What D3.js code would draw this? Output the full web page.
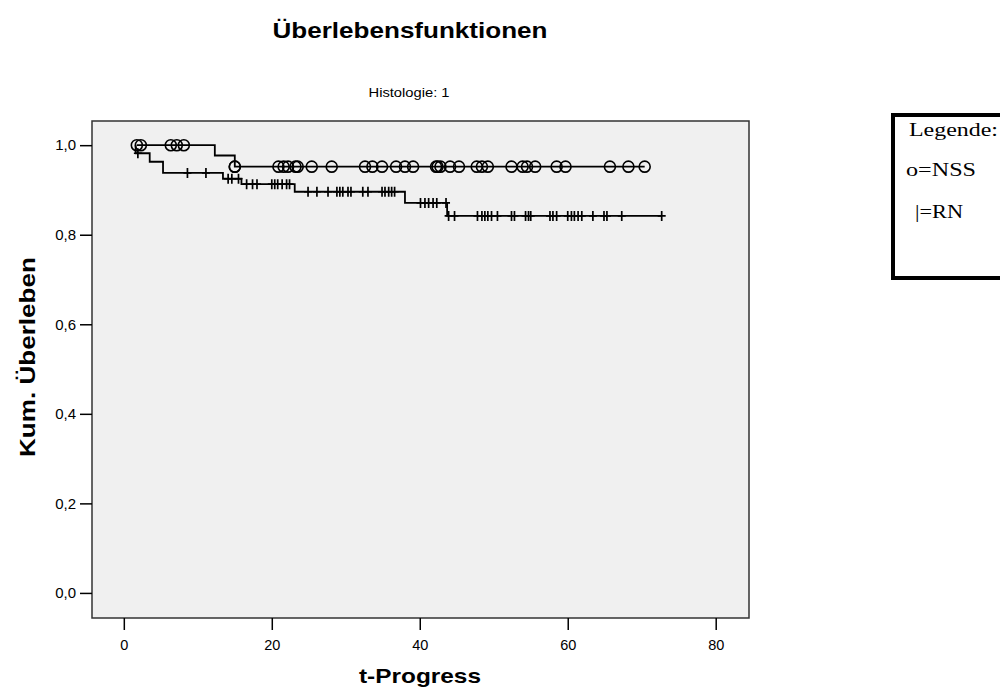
<!DOCTYPE html>
<html>
<head>
<meta charset="utf-8">
<script src="https://cdn.jsdelivr.net/npm/d3@7"></script>
<style>
  html, body { margin: 0; padding: 0; background: #fff; }
  svg { display: block; }
</style>
</head>
<body>
<svg id="chart" width="1000" height="691"></svg>
<script>
// Kaplan-Meier survival curves, group NSS (circles) and group RN (crosses)
const xTicks = [0, 20, 40, 60, 80];
const yTicks = [0, 0.2, 0.4, 0.6, 0.8, 1.0];

// NSS: start/end of follow-up, event times with survival after each event, censored times
const nssRange = [1.76, 70.4];
const nssEventTimes = [12.3, 15.0];
const nssEventSurv = [0.977, 0.952];
const nssCensored = [1.76, 2.3, 6.35, 7.16, 8.11, 15.0, 15.0, 20.9, 21.6, 22.2, 23.2, 23.5,
  25.4, 28.1, 32.6, 33.6, 34.9, 36.8, 38.0, 39.1, 42.2, 42.4, 42.8, 44.1, 45.3, 47.7,
  48.4, 49.2, 52.4, 53.9, 54.5, 55.6, 58.5, 59.7, 65.7, 68.2, 70.4];

// RN
const rnRange = [1.6, 72.7];
const rnEventTimes = [1.6, 3.5, 5.3, 13.4, 15.9, 23.1, 38.0, 43.7];
const rnEventSurv = [0.982, 0.963, 0.938, 0.925, 0.913, 0.896, 0.871, 0.842];
const rnCensored = [1.9, 8.6, 11.1, 14.1, 14.6, 15.5, 16.6, 17.4, 18.0, 20.0, 20.4, 20.8,
  21.4, 22.0, 22.4, 24.9, 26.1, 27.6, 28.8, 29.2, 29.6, 30.3, 30.7, 32.3, 33.0, 34.9,
  35.3, 35.8, 36.2, 36.6, 40.1, 40.7, 41.2, 41.8, 42.3, 43.55, 43.9, 44.7, 47.8, 48.4,
  48.8, 49.2, 49.7, 50.5, 52.4, 52.8, 54.3, 54.7, 55.0, 57.6, 58.0, 58.5, 60.0, 60.5,
  60.9, 61.4, 61.9, 63.4, 64.9, 65.3, 67.3, 72.7];

const svg = d3.select("#chart");
const plot = { left: 92, right: 749, top: 121, bottom: 618 };
const sans = "Liberation Sans, Arial, sans-serif";

const x = d3.scaleLinear().domain([-4.3, 84.5]).range([plot.left, plot.right]);
const y = d3.scaleLinear().domain([-0.056, 1.054]).range([plot.bottom, plot.top]);

const fmt = d => d3.format(".1f")(d).replace(".", ",");

// Titles (slightly widened lettering)
svg.append("text")
  .attr("x", 410).attr("y", 38)
  .attr("text-anchor", "middle")
  .attr("font-family", sans)
  .attr("font-weight", "bold").attr("font-size", 22)
  .attr("textLength", 275).attr("lengthAdjust", "spacingAndGlyphs")
  .text("Überlebensfunktionen");

svg.append("text")
  .attr("x", 409).attr("y", 97)
  .attr("text-anchor", "middle")
  .attr("font-family", sans)
  .attr("font-size", 13.5)
  .attr("textLength", 81).attr("lengthAdjust", "spacingAndGlyphs")
  .text("Histologie: 1");

// Plot background
svg.append("rect")
  .attr("x", plot.left).attr("y", plot.top)
  .attr("width", plot.right - plot.left).attr("height", plot.bottom - plot.top)
  .attr("fill", "#f0f0f0").attr("stroke", "#333").attr("stroke-width", 1.5);

// Axes
const xAxis = d3.axisBottom(x).tickValues(xTicks).tickSize(12).tickPadding(10).tickFormat(d3.format("d"));
const gx = svg.append("g").attr("transform", `translate(0,${plot.bottom})`).call(xAxis);
gx.select(".domain").remove();
gx.selectAll("line").attr("stroke", "#000").attr("stroke-width", 1.5);
gx.selectAll("text").attr("font-family", sans).attr("font-size", 14.5).attr("fill", "#000");

const yAxis = d3.axisLeft(y).tickValues(yTicks).tickSize(12).tickPadding(4).tickFormat(fmt);
const gy = svg.append("g").attr("transform", `translate(${plot.left},0)`).call(yAxis);
gy.select(".domain").remove();
gy.selectAll("line").attr("stroke", "#000").attr("stroke-width", 1.5);
gy.selectAll("text").attr("font-family", sans).attr("font-size", 15).attr("fill", "#000");

// Axis titles
svg.append("text")
  .attr("x", 420).attr("y", 683)
  .attr("text-anchor", "middle")
  .attr("font-family", sans)
  .attr("font-weight", "bold").attr("font-size", 21)
  .attr("textLength", 122).attr("lengthAdjust", "spacingAndGlyphs")
  .text("t-Progress");

svg.append("text")
  .attr("transform", "translate(35,357) rotate(-90)")
  .attr("text-anchor", "middle")
  .attr("font-family", sans)
  .attr("font-weight", "bold").attr("font-size", 21.5)
  .attr("textLength", 200).attr("lengthAdjust", "spacingAndGlyphs")
  .text("Kum. Überleben");

// Step function helpers
function stepPoints(range, times, surv) {
  const pts = [[range[0], 1]];
  let s = 1;
  times.forEach((t, i) => {
    pts.push([t, s]);
    s = surv[i];
    pts.push([t, s]);
  });
  pts.push([range[1], s]);
  return pts;
}
function survAt(t, times, surv) {
  let s = 1;
  times.forEach((et, i) => { if (et <= t) s = surv[i]; });
  return s;
}

const line = d3.line().x(d => x(d[0])).y(d => y(d[1]));

const curves = svg.append("g").attr("fill", "none").attr("stroke", "#000").attr("stroke-width", 1.8);
curves.append("path").attr("d", line(stepPoints(rnRange, rnEventTimes, rnEventSurv)));
curves.append("path").attr("d", line(stepPoints(nssRange, nssEventTimes, nssEventSurv)));

// Censor marks
svg.append("g").selectAll("path").data(rnCensored).join("path")
  .attr("d", t => {
    const cx = x(t), cy = y(survAt(t, rnEventTimes, rnEventSurv));
    return `M${cx - 4},${cy}H${cx + 4}M${cx},${cy - 5}V${cy + 5}`;
  })
  .attr("stroke", "#000").attr("stroke-width", 1.7).attr("fill", "none");

svg.append("g").selectAll("circle").data(nssCensored).join("circle")
  .attr("cx", t => x(t))
  .attr("cy", t => y(survAt(t, nssEventTimes, nssEventSurv)))
  .attr("r", 5.5)
  .attr("fill", "none").attr("stroke", "#000").attr("stroke-width", 1.6);

// Legend box
svg.append("rect")
  .attr("x", 893).attr("y", 115).attr("width", 140).attr("height", 163)
  .attr("fill", "#fff").attr("stroke", "#000").attr("stroke-width", 4);

const legendLines = [
  { text: "Legende:", x: 909, y: 136, w: 89 },
  { text: "o=NSS", x: 906, y: 176, w: 70 },
  { text: "|=RN", x: 915, y: 218, w: 48 }
];
svg.append("g").selectAll("text").data(legendLines).join("text")
  .attr("x", d => d.x).attr("y", d => d.y)
  .attr("font-family", "Liberation Serif, Times New Roman, serif")
  .attr("font-size", 19)
  .attr("textLength", d => d.w)
  .attr("lengthAdjust", "spacingAndGlyphs")
  .text(d => d.text);
</script>
</body>
</html>
